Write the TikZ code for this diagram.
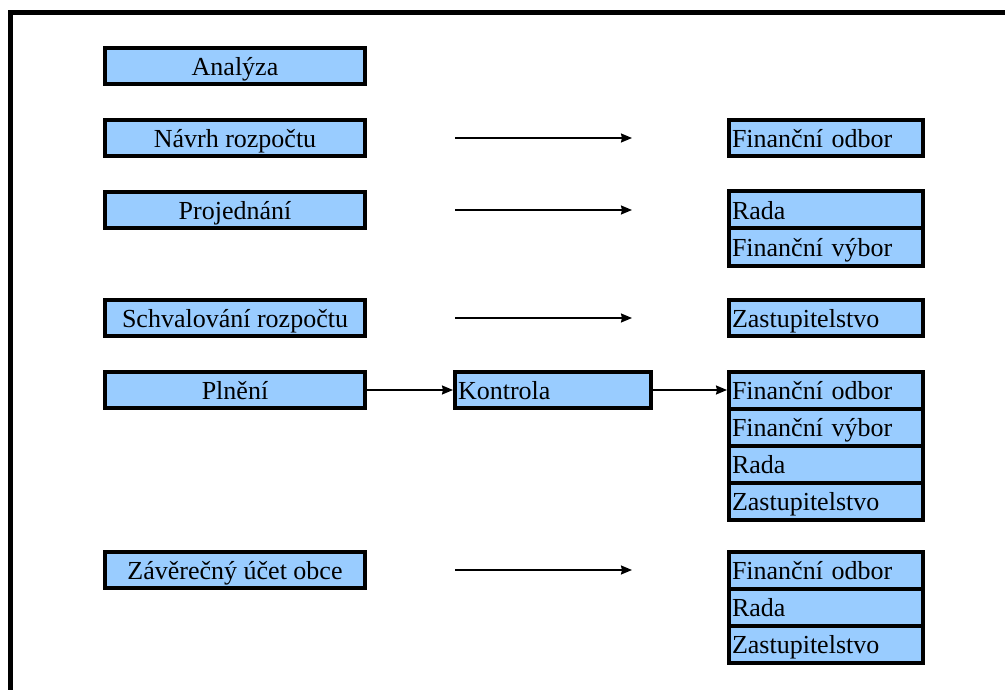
\documentclass[tikz,border=0pt]{standalone}
\usepackage{fontspec}
\setmainfont{Liberation Serif}
\usetikzlibrary{arrows.meta, positioning}
\definecolor{boxblue}{RGB}{153,204,255}

\begin{document}
\begin{tikzpicture}[x=1pt,y=-1pt,->,>={Stealth[length=11pt,width=9pt,inset=1pt]},line width=1.6pt,font=\fontsize{26}{30}\selectfont]
	\tikzstyle{phase} = [draw,line width=4pt,fill=boxblue,minimum width=260pt,minimum height=36pt,inner sep=3pt,text height=19.5pt,text depth=0pt]
	\tikzstyle{organ} = [draw,line width=4pt,fill=boxblue,minimum height=37pt,text width=188pt,align=left,inner sep=3pt,text height=19.5pt,text depth=0pt]
	\tikzstyle{gap} = [shorten <=88pt,shorten >=95pt]
	\useasboundingbox (0,0) rectangle (1005,690);
	\draw[-,line width=4.5pt] (10.5,690) |- (1005,12.5);
	% phases
	\node[phase]	(analyza)		at (235,66)		{Analýza};
	\node[phase]	(navrh)			at (235,138)	{Návrh rozpočtu};
	\node[phase]	(projednani)	at (235,210)	{Projednání};
	\node[phase]	(schvalovani)	at (235,318)	{Schvalování rozpočtu};
	\node[phase]	(plneni)		at (235,390)	{Plnění};
	\node[phase]	(zaverecny)		at (235,570)	{Závěrečný účet obce};
	\node[organ,minimum height=36pt,text width=190pt] (kontrola) at (553,390) {Kontrola};
	% bodies
	\node[organ,minimum height=36pt]	(fo1)	at (826,138)	{Finanční odbor};
	\node[organ]	(rada2)	at (826,210)				{Rada};
	\node[organ]	(fv2)	[below=-4pt of rada2]		{Finanční výbor};
	\node[organ,minimum height=36pt]	(zast3)	at (826,318)	{Zastupitelstvo};
	\node[organ]	(fo4)	at (826,390)				{Finanční odbor};
	\node[organ]	(fv4)	[below=-4pt of fo4]			{Finanční výbor};
	\node[organ]	(rada4)	[below=-4pt of fv4]			{Rada};
	\node[organ]	(zast4)	[below=-4pt of rada4]		{Zastupitelstvo};
	\node[organ]	(fo5)	at (826,570)				{Finanční odbor};
	\node[organ]	(rada5)	[below=-4pt of fo5]			{Rada};
	\node[organ]	(zast5)	[below=-4pt of rada5]		{Zastupitelstvo};
	\path	(navrh) edge [gap] (fo1)
			(projednani) edge [gap] (rada2)
			(schvalovani) edge [gap] (zast3)
			(plneni) edge (kontrola)
			(kontrola) edge (fo4)
			(zaverecny) edge [gap] (fo5);
\end{tikzpicture}
\end{document}
